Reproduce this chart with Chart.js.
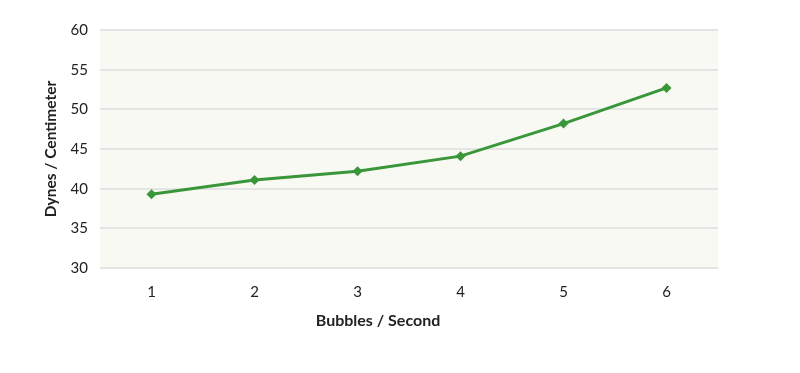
<!DOCTYPE html>
<html>
<head>
<meta charset="utf-8">
<script src="https://cdn.jsdelivr.net/npm/chart.js@4"></script>
<style>
  html, body { margin:0; padding:0; background:#ffffff; }
  #wrap { width:800px; height:373px; }
</style>
</head>
<body>
<div id="wrap"><canvas id="surfaceChart" width="800" height="373"></canvas></div>
<script>
/* ===========================
   DATA
=========================== */

const bubbleRates = ["1","2","3","4","5","6"];

const tensionValues = [39.3, 41.1, 42.2, 44.1, 48.2, 52.7];

const yTicks = [30, 35, 40, 45, 50, 55, 60];

/* ===========================
   PLOT BACKGROUND
=========================== */

const plotBackground = {
    id:"plotBackground",
    beforeDraw(chart){
        const {ctx, chartArea:a} = chart;
        ctx.save();
        ctx.fillStyle = "#f8f9f3";
        ctx.fillRect(a.left, a.top, a.right - a.left, a.bottom - a.top);
        ctx.restore();
    }
};

/* ===========================
   CHART
=========================== */

const font = "Lato, 'Open Sans', sans-serif";

new Chart(document.getElementById("surfaceChart"), {
    type:"line",
    data:{
        labels:bubbleRates,
        datasets:[{
            data:tensionValues,
            borderColor:"#3a963a",
            backgroundColor:"#3a963a",
            borderWidth:3,
            tension:0,
            fill:false,
            pointStyle:"rectRot",
            pointRadius:5,
            pointBackgroundColor:"#3a963a",
            pointBorderWidth:0
        }]
    },
    options:{
        responsive:false,
        animation:false,
        layout:{ padding:{ left:38, right:82, top:30, bottom:42.8 } },
        plugins:{
            legend:{ display:false },
            tooltip:{ enabled:false },
            // x axis title (centred on the whole layout box, as in the source)
            title:{
                display:true,
                position:"bottom",
                text:"Bubbles / Second",
                color:"#222222",
                padding:{ top:3, bottom:0 },
                font:{ family:font, size:16, weight:"bold", lineHeight:1.2 }
            }
        },
        scales:{
            x:{
                offset:true,
                grid:{ display:false },
                border:{ display:false },
                ticks:{ color:"#222222", padding:7, font:{ family:font, size:15 } },
                afterFit(scale){ scale.height = 40; }
            },
            y:{
                min:30,
                max:60,
                afterBuildTicks(scale){ scale.ticks = yTicks.map(v => ({ value:v })); },
                grid:{ color:"#e4e4e4", lineWidth:2, drawTicks:false },
                border:{ display:false },
                ticks:{ color:"#222222", padding:12, font:{ family:font, size:15 } },
                title:{
                    display:true,
                    text:"Dynes / Centimeter",
                    color:"#222222",
                    font:{ family:font, size:15.5, weight:"bold" }
                },
                afterFit(scale){ scale.width = 62; }
            }
        }
    },
    plugins:[plotBackground]
});
</script>
</body>
</html>
